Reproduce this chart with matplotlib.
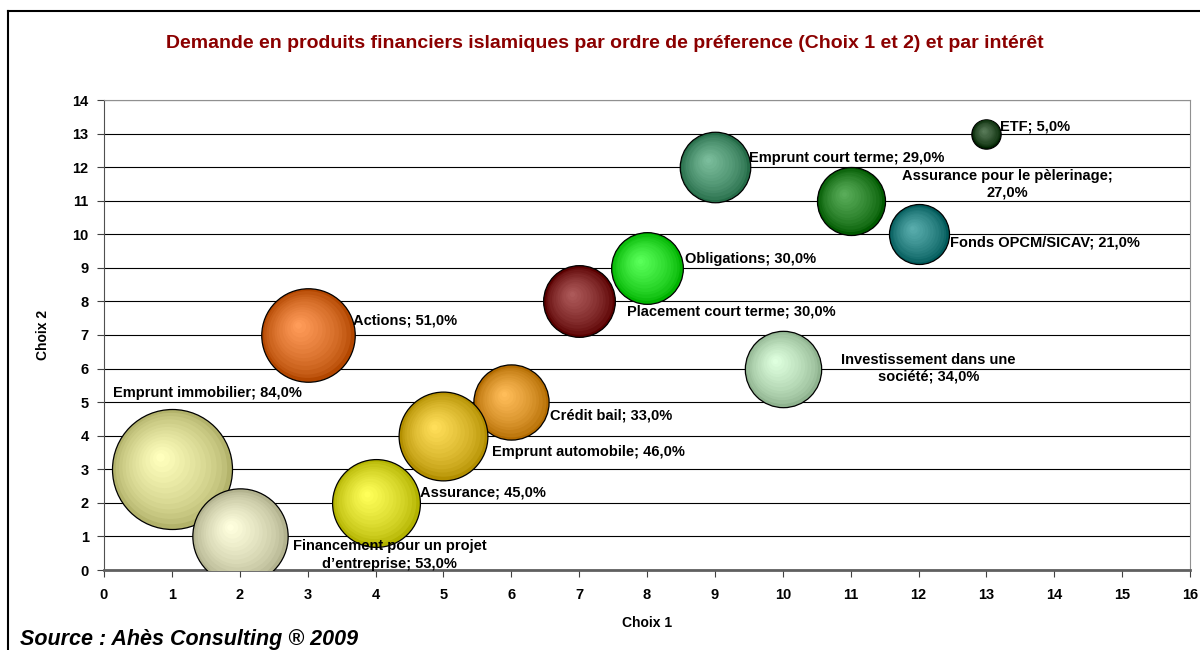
import numpy as np
import matplotlib
matplotlib.use('Agg')
import matplotlib.pyplot as plt
from matplotlib import transforms, colors as mcolors
from matplotlib.lines import Line2D

plt.rcParams['font.family'] = ['Liberation Sans', 'DejaVu Sans']

# data (order = drawing order)
produits = ['Emprunt immobilier', "Financement pour un projet\nd\u2019entreprise", 'Actions',
            'Assurance', 'Crédit bail', 'Emprunt automobile', 'Placement court terme',
            'Obligations', 'Emprunt court terme', 'Investissement dans une\nsociété',
            'Assurance pour le pèlerinage;\n27,0%', 'Fonds OPCM/SICAV', 'ETF']
choix1 = [1, 2, 3, 4, 6, 5, 7, 8, 9, 10, 11, 12, 13]
choix2 = [3, 1, 7, 2, 5, 4, 8, 9, 12, 6, 11, 10, 13]
interet = [84, 53, 51, 45, 33, 46, 30, 30, 29, 34, 27, 21, 5]
couleurs = ['#FFFF99', '#FFFFCC', '#FF6600', '#FFFF00', '#FF9900', '#FFCC00', '#800000',
            '#00FF00', '#339966', '#CCFFCC', '#008000', '#008080', '#003300']

# label placement: (x offset, y offset) in data units, alignment
lab_pos = [(-0.87, 2.27, 'left'), (2.21, -0.55, 'center'), (0.67, 0.44, 'left'),
           (0.65, 0.32, 'left'), (0.57, -0.39, 'left'), (0.71, -0.49, 'left'),
           (0.70, -0.29, 'left'), (0.56, 0.26, 'left'), (0.51, 0.26, 'left'),
           (2.15, 0.01, 'center'), (2.31, 0.49, 'center'), (0.46, -0.24, 'left'),
           (0.20, 0.21, 'left')]

fig = plt.figure(figsize=(12, 6.5), dpi=100)
ax = fig.add_axes([104 / 1200, 1 - 570 / 650, 1086 / 1200, 470 / 650])

# bubble area proportional to value; 84% -> radius 60 px
r_max_pt = 60 * 0.72
n_steps = 14
for i in range(len(produits)):
    r_pt = r_max_pt * np.sqrt(interet[i] / 84.0)
    base = np.array(mcolors.to_rgb(couleurs[i]))
    dark = base * 0.7
    light = base + (1 - base) * 0.35
    z = 3 + i * 0.1
    # outer circle with edge
    ax.scatter(choix1[i], choix2[i], s=(2 * r_pt) ** 2, color=dark,
               edgecolors='black', linewidths=0.9, zorder=z)
    for k in range(1, n_steps):
        f = 1 - k / n_steps
        off = transforms.offset_copy(ax.transData, fig=fig,
                                     x=-0.22 * r_pt * (1 - f), y=0.22 * r_pt * (1 - f), units='points')
        col = dark + (light - dark) * (k / (n_steps - 1)) ** 0.7
        ax.scatter(choix1[i], choix2[i], s=(2 * r_pt * f) ** 2, color=col,
                   linewidths=0, transform=off, zorder=z + 0.001 * k)

# labels
for i in range(len(produits)):
    name = produits[i]
    if name.endswith('%'):
        txt = name
    else:
        txt = f'{name}; {interet[i]:.1f}%'.replace('.', ',')
    dx, dy, ha = lab_pos[i]
    ax.text(choix1[i] + dx, choix2[i] + dy, txt, ha=ha, va='center', fontsize=10.5,
            fontweight='bold', linespacing=1.3, zorder=10)

ax.set_xlim(0, 16)
ax.set_ylim(0, 14)
ax.set_xticks(range(0, 17))
ax.set_yticks(range(0, 15))
ax.yaxis.grid(True, color='black', linewidth=0.8)
ax.set_axisbelow(True)
for lab in ax.get_xticklabels() + ax.get_yticklabels():
    lab.set_fontweight('bold')
ax.tick_params(axis='both', labelsize=10.5, length=5, width=0.8, color='#404040')
ax.tick_params(axis='x', pad=8)
ax.tick_params(axis='y', pad=6)
for s in ['top', 'right']:
    ax.spines[s].set_color('#909090')
ax.spines['left'].set_color('#505050')
ax.spines['bottom'].set_color('#606060')
ax.spines['bottom'].set_linewidth(2)
ax.set_xlabel('Choix 1', fontsize=10, fontweight='bold', labelpad=10)
ax.set_ylabel('Choix 2', fontsize=10, fontweight='bold', labelpad=16)

fig.text(605 / 1200, 1 - 44 / 650, 'Demande en produits financiers islamiques par ordre de préference (Choix 1 et 2) et par intérêt',
         ha='center', va='center', fontsize=14, fontweight='bold', color='#8B0000')
fig.text(20 / 1200, 1 - 639 / 650, 'Source : Ahès Consulting ® 2009', ha='left', va='center',
         fontsize=15.5, fontweight='bold', fontstyle='italic')

# outer frame (left and top edges visible)
fig.add_artist(Line2D([8 / 1200, 8 / 1200], [0, 1 - 11 / 650], color='black', lw=1.5,
                      transform=fig.transFigure))
fig.add_artist(Line2D([8 / 1200, 1], [1 - 11 / 650, 1 - 11 / 650], color='black', lw=1.5,
                      transform=fig.transFigure))

fig.savefig('out.png', dpi=100)
